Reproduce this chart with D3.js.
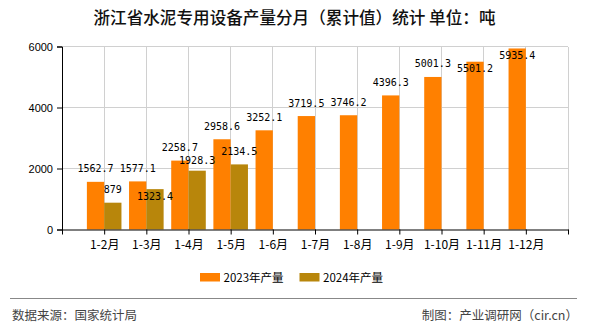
<!DOCTYPE html>
<html>
<head>
<meta charset="utf-8">
<script src="https://cdn.jsdelivr.net/npm/d3@7"></script>
<style>
html,body{margin:0;padding:0;background:#fff;}
svg{display:block;}
</style>
</head>
<body>
<svg id="chart" width="590" height="330"></svg>
<script>
const categories = ["1-2月","1-3月","1-4月","1-5月","1-6月","1-7月","1-8月","1-9月","1-10月","1-11月","1-12月"];
const values2023 = [1562.7,1577.1,2258.7,2958.6,3252.1,3719.5,3746.2,4396.3,5001.3,5501.2,5935.4];
const values2024 = [879,1323.4,1928.3,2134.5];
const seriesNames = ["2023年产量","2024年产量"];
const seriesColors = ["#FF8000","#B8860B"];
const yTicks = [0,2000,4000,6000];
const titleText = "浙江省水泥专用设备产量分月（累计值）统计 单位：吨";
const sourceText = "数据来源：国家统计局";
const makerText = "制图：产业调研网（cir.cn）";

(function(){
const svg = d3.select("#chart");
const W = 590, H = 330;
const pLeft = 62, pRight = 568, pTop = 46.5, pBottom = 229.5;

const x = d3.scalePoint().domain(["_s", ...categories, "_e"]).range([pLeft, pRight]);
const y = d3.scaleLinear().domain([0, 6000]).range([pBottom, pTop]);
const bw = x.step() * 0.41;

const cjk = "'Noto Sans CJK SC','Noto Sans',sans-serif";
const sans = "'Liberation Sans',Arial,sans-serif";
const mono = "'DejaVu Sans Mono',monospace";

// title
svg.append("text").attr("x", W/2 - 0.5).attr("y", 24).attr("text-anchor","middle")
  .style("font-family", cjk).style("font-size","16.6px").style("font-weight","500")
  .attr("fill","#111").text(titleText);

// gridlines
const g = svg.append("g");
g.selectAll("line.h").data(yTicks.filter(d=>d>0)).join("line")
  .attr("x1", pLeft).attr("x2", pRight).attr("y1", d=>y(d)).attr("y2", d=>y(d))
  .attr("stroke","#d0d0d0").attr("stroke-width",1).attr("shape-rendering","crispEdges");
g.selectAll("line.v").data(x.domain().slice(1)).join("line")
  .attr("x1", d=>x(d)).attr("x2", d=>x(d)).attr("y1", pTop).attr("y2", pBottom)
  .attr("stroke","#d0d0d0").attr("stroke-width",1).attr("shape-rendering","crispEdges");

// bars
const bars = svg.append("g");
bars.selectAll("rect.a").data(values2023).join("rect")
  .attr("x", (d,i)=>x(categories[i]) - bw).attr("width", bw)
  .attr("y", d=>y(d)).attr("height", d=>pBottom - y(d)).attr("fill", seriesColors[0]);
bars.selectAll("rect.b").data(values2024).join("rect")
  .attr("x", (d,i)=>x(categories[i])).attr("width", bw)
  .attr("y", d=>y(d)).attr("height", d=>pBottom - y(d)).attr("fill", seriesColors[1]);

// axes
const yAxis = d3.axisLeft(y).tickValues(yTicks).tickSize(5).tickPadding(4).tickFormat(d3.format("d"));
const ya = svg.append("g").attr("transform", `translate(${pLeft},0)`).call(yAxis);
ya.select(".domain").attr("stroke","#000");
ya.selectAll(".tick line").attr("stroke","#000");
ya.selectAll("text").style("font-family", sans).style("font-size","11px").attr("fill","#000");

const xAxis = d3.axisBottom(x).tickSize(5).tickPadding(4).tickSizeOuter(0)
  .tickFormat(d => categories.includes(d) ? d : "");
const xa = svg.append("g").attr("transform", `translate(0,${pBottom})`).call(xAxis);
xa.select(".domain").attr("stroke","#000");
xa.selectAll(".tick line").attr("stroke","#000");
xa.selectAll("text").style("font-family", cjk).style("font-size","12px").attr("fill","#000").attr("dy","0.9em");

// value labels (placed above bars; pushed down or inside on collision)
const placed = [];
const lblH = 11, charW = 6;
function place(v, cx) {
  const topY = y(v);
  const w = String(v).length * charW;
  let base = topY - 9.5;
  const box = b => ({x0: cx - w/2, x1: cx + w/2, y0: b - lblH, y1: b});
  const hits = bb => placed.filter(p => bb.x0 < p.x1 && bb.x1 > p.x0 && bb.y0 < p.y1 && bb.y1 > p.y0);
  if (base - lblH < pTop - 5) {
    base = topY + 10.5;
  } else {
    const h = hits(box(base));
    if (h.length) {
      const nb = d3.max(h, p => p.y1) + lblH + 2;
      base = nb <= topY - 5 ? nb : topY + 10.5;
    }
  }
  placed.push(box(base));
  return base;
}
const labels = [];
categories.forEach((c, i) => {
  if (i < values2023.length) labels.push({v: values2023[i], cx: x(c) - bw/2});
  if (i < values2024.length) labels.push({v: values2024[i], cx: x(c) + bw/2});
});
labels.forEach(l => l.base = place(l.v, l.cx));
svg.append("g").selectAll("text").data(labels).join("text")
  .attr("x", d=>d.cx).attr("y", d=>d.base).attr("text-anchor","middle")
  .style("font-family", mono).style("font-size","10px")
  .attr("fill","#000").text(d=>String(d.v));

// legend
const legendX = [200, 299.5];
const lg = svg.append("g");
seriesNames.forEach((n, i) => {
  lg.append("rect").attr("x", legendX[i]).attr("y", 273).attr("width", 20).attr("height", 8.5).attr("fill", seriesColors[i]);
  lg.append("text").attr("x", legendX[i] + 23.5).attr("y", 281.5)
    .style("font-family", cjk).style("font-size","11.5px").attr("fill","#000").text(n);
});

// footer
svg.append("line").attr("x1",10).attr("x2",577).attr("y1",298.5).attr("y2",298.5)
  .attr("stroke","#888").attr("stroke-width",1);
svg.append("text").attr("x",12).attr("y",320)
  .style("font-family", cjk).style("font-size","12.5px").attr("fill","#444").text(sourceText);
svg.append("text").attr("x",578).attr("y",320).attr("text-anchor","end")
  .style("font-family", cjk).style("font-size","12.5px").attr("fill","#444").text(makerText);
})();
</script>
</body>
</html>
